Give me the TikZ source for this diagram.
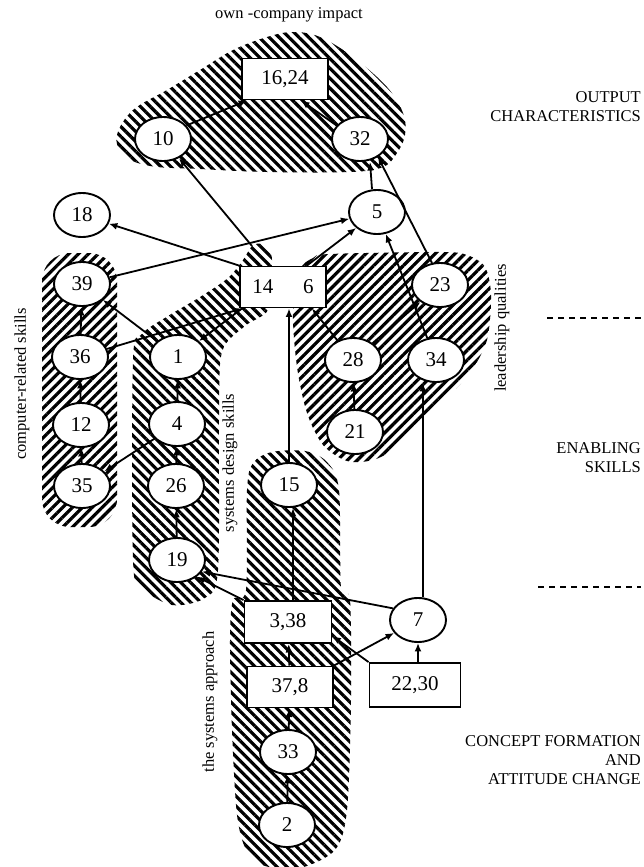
\documentclass[tikz,border=0pt]{standalone}
\usepackage{fontspec}
\setmainfont{Liberation Serif}
\usetikzlibrary{shapes.geometric,arrows.meta,patterns.meta,calc}
\begin{document}
\begin{tikzpicture}[x=1pt,y=-1pt,
  el/.style={ellipse,draw,line width=1.9pt,fill=white,minimum width=56pt,minimum height=44pt,inner sep=0pt,font=\fontsize{21}{21}\selectfont},
  bx/.style={rectangle,draw,line width=1.9pt,fill=white,minimum width=86pt,minimum height=41pt,inner sep=0pt,font=\fontsize{21}{21}\selectfont},
  conn/.style={line width=1.8pt,-{Latex[length=8.5pt,width=7pt]}},
  hatchA/.style={pattern={Lines[angle=-45,distance=7pt,line width=3.2pt]}},
  hatchB/.style={pattern={Lines[angle=45,distance=7pt,line width=3.2pt]}},
  lab/.style={font=\fontsize{16.5}{18}\selectfont,inner sep=0pt},
  side/.style={font=\fontsize{16.5}{19}\selectfont,align=right,anchor=east,inner sep=0pt},
  dashline/.style={line width=2.5pt,dash pattern=on 6pt off 5pt},
]
\useasboundingbox (0,0) rectangle (643,867);

% hatched regions
\fill[hatchA] plot[smooth cycle,tension=0.6] coordinates {(117,135) (133,110) (167,90) (200,70) (233,50) (267,37) (293,32) (320,37) (353,57) (387,87) (403,113) (405,135) (397,153) (383,167) (350,172) (267,172) (200,169) (150,166) (123,155)};
\fill[hatchB,rounded corners=28pt] (42,253) rectangle (117,527);
\fill[hatchA] plot[smooth cycle,tension=0.5] coordinates {(133,360) (142,334) (168,316) (200,297) (228,278) (243,260) (252,246) (262,244) (271,254) (272,272) (268,310) (245,326) (222,352) (219,420) (218,570) (205,598) (172,605) (142,588) (133,560)};
\fill[hatchB] plot[smooth cycle,tension=0.5] coordinates {(293,313) (300,270) (313,258) (330,254) (440,252) (467,255) (485,267) (491,295) (487,340) (470,373) (447,397) (420,420) (397,447) (373,460) (347,461) (323,445) (307,413) (297,367)};
\fill[hatchA] plot[smooth cycle,tension=0.5] coordinates {(247,490) (253,463) (272,452) (305,451) (327,462) (339,490) (341,588) (350,600) (351,700) (347,810) (335,850) (300,868) (265,866) (247,852) (237,815) (232,730) (230,640) (233,600) (246,590)};

% nodes
\node[bx] (n1624) at (285,79) {16,24};
\node[el] (n10) at (163,139) {10};
\node[el] (n32) at (360,139) {32};
\node[el] (n18) at (82,215) {18};
\node[el] (n5) at (377,212) {5};
\node[bx] (n146) at (283,287) {14\hspace{30pt}6};
\node[el] (n39) at (82,284) {39};
\node[el] (n23) at (440,285) {23};
\node[el] (n36) at (80,357) {36};
\node[el] (n1) at (178,357) {1};
\node[el] (n28) at (353,360) {28};
\node[el] (n34) at (436,360) {34};
\node[el] (n12) at (81,425) {12};
\node[el] (n4) at (177,424) {4};
\node[el] (n21) at (355,432) {21};
\node[el] (n35) at (82,486) {35};
\node[el] (n26) at (176,486) {26};
\node[el] (n15) at (289,485) {15};
\node[el] (n19) at (177,560) {19};
\node[bx,minimum height=42pt,minimum width=87pt] (n338) at (288,622) {3,38};
\node[el] (n7) at (418,620) {7};
\node[bx] (n378) at (290,687) {37,8};
\node[bx,minimum width=91pt,minimum height=44pt] (n2230) at (415,685) {22,30};
\node[el] (n33) at (288,752) {33};
\node[el] (n2) at (287,825) {2};

% labels
\node[lab] (tOwn) at (289,15) {own -company impact};
\node[side] (tOut) at (641,107) {OUTPUT\\CHARACTERISTICS};
\node[side] (tEn) at (641,458) {ENABLING\\SKILLS};
\node[side] (tCon) at (641,760) {CONCEPT FORMATION\\AND\\ATTITUDE CHANGE};
\node[lab,rotate=90] (tComp) at (22,384) {computer-related skills};
\node[lab,rotate=90] (tSys) at (230,463) {systems design skills};
\node[lab,rotate=90] (tLead) at (502,328) {leadership qualities};
\node[lab,rotate=90] (tApp) at (210,702) {the systems approach};

% dashed separators
\coordinate (d1a) at (547,318); \coordinate (d1b) at (641,318);
\coordinate (d2a) at (538,587); \coordinate (d2b) at (641,587);
\draw[dashline] (d1a) -- (d1b);
\draw[dashline] (d2a) -- (d2b);

% connectors
\coordinate (cTop) at (252,246);
\coordinate (p15b) at ([xshift=4pt]n15.south);
\coordinate (p7t) at (n7.78);
\draw[conn] (n10.30) -- ([xshift=6pt]n1624.south west);
\draw[conn] (n32.150) -- ([xshift=-28pt]n1624.south east);
\draw[conn] (cTop) -- (n10);
\draw[conn] ([xshift=-5pt]n5.north) -- ([xshift=10pt]n32.south);
\draw[conn] (n23.110) -- (n32.-45);
\draw[conn] (n146.north west) -- (n18);
\draw[conn] (n39) -- (n5);
\draw[conn] ([xshift=-20pt]n146.north east) -- (n5);
\draw[conn] (n34) -- (n5);
\draw[conn] (n28) -- (n23);
\draw[conn] (n28) -- ([xshift=-15pt]n146.south east);
\draw[conn] (n21) -- (n28);
\draw[conn] (p7t) -- (p7t |- n34.south);
\draw[conn] (n15.north) -- (n15.north |- n146.south);
\draw[conn] (p15b |- n338.north) -- (p15b);
\draw[conn] (n1) -- (n39);
\draw[conn] (n36) -- ([xshift=3pt]n146.south west);
\draw[conn] ([xshift=3pt]n146.south west) -- (n1);
\draw[conn] (n36) -- (n39);
\draw[conn] (n12) -- (n36);
\draw[conn] (n35) -- (n12);
\draw[conn] (n4) -- (n1);
\draw[conn] (n26) -- (n4);
\draw[conn] (n19) -- (n26);
\draw[conn] (n4) -- (n35);
\draw[conn] (n7.155) -- (n19.-25);
\draw[conn] (n338.north west) -- (n19.-40);
\draw[conn] (n378.north east) -- (n7);
\draw[conn] (n2230.north west) -- ([yshift=8pt]n338.south east);
\draw[conn] (n2230.north -| n7) -- (n7.south);
\draw[conn] (n378) -- (n338);
\draw[conn] (n33) -- (n378);
\draw[conn] (n2) -- (n33);
\end{tikzpicture}
\end{document}
